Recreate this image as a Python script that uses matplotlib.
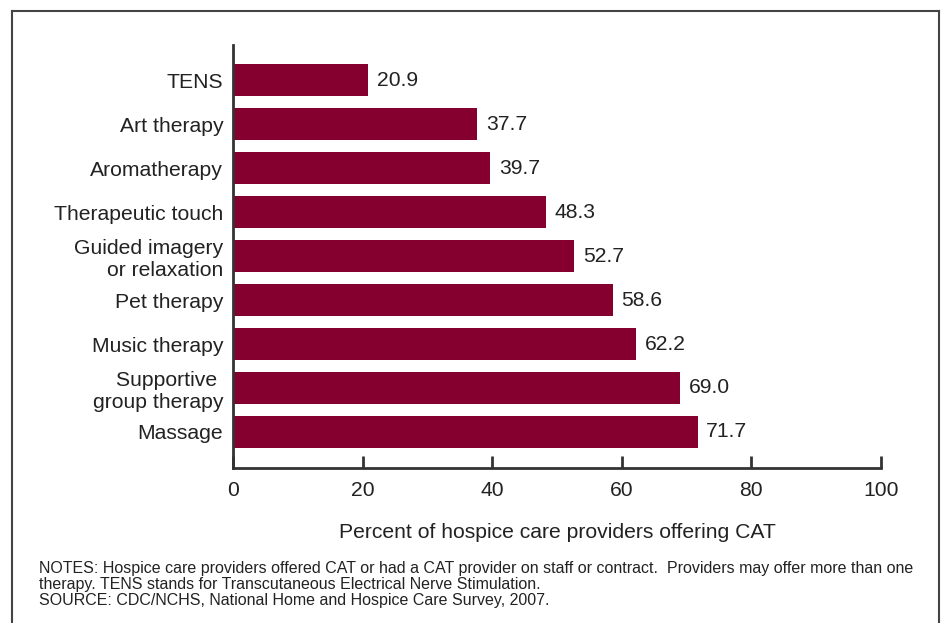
import matplotlib
matplotlib.use('Agg')
import matplotlib.pyplot as plt
from matplotlib.lines import Line2D

# data, top bar first as in the picture
therapies = ['TENS', 'Art therapy', 'Aromatherapy', 'Therapeutic touch',
             'Guided imagery\nor relaxation', 'Pet therapy', 'Music therapy',
             'Supportive \ngroup therapy', 'Massage']
percents = [20.9, 37.7, 39.7, 48.3, 52.7, 58.6, 62.2, 69.0, 71.7]
xticks = [0, 20, 40, 60, 80, 100]

notes = ('NOTES: Hospice care providers offered CAT or had a CAT provider on staff or contract.  '
         'Providers may offer more than one\n'
         'therapy. TENS stands for Transcutaneous Electrical Nerve Stimulation.\n'
         'SOURCE: CDC/NCHS, National Home and Hospice Care Survey, 2007.')

plt.rcParams['font.family'] = ['Liberation Sans', 'DejaVu Sans']

bar_color = '#85002f'
text_color = '#222222'
axis_color = '#333333'
fs = 15.2

fig = plt.figure(figsize=(9.42, 6.23), dpi=100)
ax = fig.add_axes([233 / 942, 1 - 468 / 623, (881 - 233) / 942, (468 - 45) / 623])

pos = list(range(len(therapies)))[::-1]
ax.barh(pos, percents, height=0.73, color=bar_color)

for p, v in zip(pos, percents):
	ax.text(v + 1.3, p, '%.1f' % v, va='center', ha='left', fontsize=fs, color=text_color)

ax.set_xlim(0, 100)
ax.set_ylim(-0.82, 8.8)
ax.set_xticks(xticks)
ax.set_xticklabels([str(t) for t in xticks], fontsize=fs, color=text_color)
ax.set_yticks(pos)
ax.set_yticklabels(therapies, fontsize=fs, color=text_color, linespacing=1.2)
ax.tick_params(axis='x', direction='in', length=9, width=2, color=axis_color, pad=9)
ax.tick_params(axis='y', length=0, pad=7)

for s in ['top', 'right']:
	ax.spines[s].set_visible(False)
for s in ['left', 'bottom']:
	ax.spines[s].set_color(axis_color)
	ax.spines[s].set_linewidth(2)

ax.set_xlabel('Percent of hospice care providers offering CAT', fontsize=fs,
              color=text_color, labelpad=17)

fig.text(39 / 942, 1 - 561 / 623, notes, fontsize=11.5, color=text_color,
         va='top', ha='left', linespacing=1.08)

# frame round the whole chart, open at the bottom edge
for xs, ys in [([12, 12], [623, 11]), ([12, 939], [11, 11]), ([939, 939], [11, 623])]:
	fig.add_artist(Line2D([x / 942 for x in xs], [1 - y / 623 for y in ys],
	                      color='#444444', linewidth=1.5))

plt.savefig('out.png', dpi=100)
plt.close('all')
